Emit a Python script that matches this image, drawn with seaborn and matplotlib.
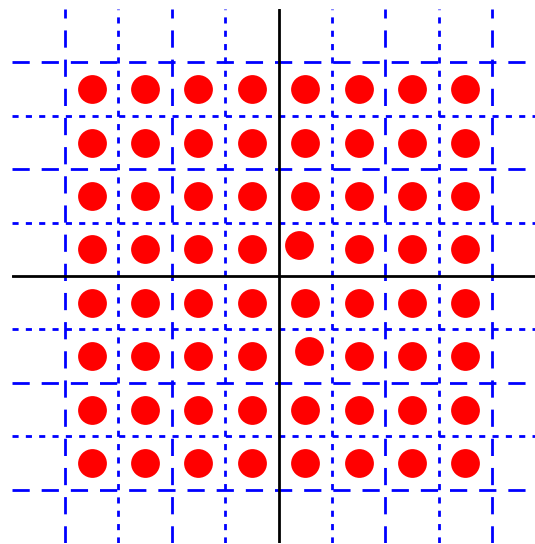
import matplotlib
matplotlib.use("Agg")
import matplotlib.pyplot as plt
import seaborn as sns
import pandas as pd

sns.set_style("white")

# Point coordinates, one list per row of the lattice (top to bottom)
x_row1 = [-1.75, -1.25, -0.75, -0.25, 0.25, 0.75, 1.25, 1.75]
y_row1 = [1.75, 1.75, 1.75, 1.75, 1.75, 1.75, 1.75, 1.75]
x_row2 = [-1.75, -1.25, -0.75, -0.25, 0.25, 0.75, 1.25, 1.75]
y_row2 = [1.25, 1.25, 1.25, 1.25, 1.25, 1.25, 1.25, 1.25]
x_row3 = [-1.75, -1.25, -0.75, -0.25, 0.25, 0.75, 1.25, 1.75]
y_row3 = [0.75, 0.75, 0.75, 0.75, 0.75, 0.75, 0.75, 0.75]
x_row4 = [-1.75, -1.25, -0.75, -0.25, 0.19, 0.75, 1.25, 1.75]
y_row4 = [0.25, 0.25, 0.25, 0.25, 0.29, 0.25, 0.25, 0.25]
x_row5 = [-1.75, -1.25, -0.75, -0.25, 0.25, 0.75, 1.25, 1.75]
y_row5 = [-0.25, -0.25, -0.25, -0.25, -0.25, -0.25, -0.25, -0.25]
x_row6 = [-1.75, -1.25, -0.75, -0.25, 0.29, 0.75, 1.25, 1.75]
y_row6 = [-0.75, -0.75, -0.75, -0.75, -0.70, -0.75, -0.75, -0.75]
x_row7 = [-1.75, -1.25, -0.75, -0.25, 0.25, 0.75, 1.25, 1.75]
y_row7 = [-1.25, -1.25, -1.25, -1.25, -1.25, -1.25, -1.25, -1.25]
x_row8 = [-1.75, -1.25, -0.75, -0.25, 0.25, 0.75, 1.25, 1.75]
y_row8 = [-1.75, -1.75, -1.75, -1.75, -1.75, -1.75, -1.75, -1.75]

major_ticks = [-2, -1, 1, 2]
minor_ticks = [-1.5, -0.5, 0.5, 1.5]

df = pd.DataFrame({
    "x": x_row1 + x_row2 + x_row3 + x_row4 + x_row5 + x_row6 + x_row7 + x_row8,
    "y": y_row1 + y_row2 + y_row3 + y_row4 + y_row5 + y_row6 + y_row7 + y_row8,
})

fig = plt.figure(figsize=(5.35, 5.44), dpi=100)
ax = fig.add_axes([11.5 / 535, 1.0 / 544, 534 / 535, 534 / 544])
ax.set_xlim(-2.5, 2.5)
ax.set_ylim(-2.5, 2.5)

# Grid: dashed at whole units, dotted at half units
for v in major_ticks:
    ax.axvline(v, color="#0000ff", lw=2.0, dashes=(6.2, 4.3), zorder=1)
    ax.axhline(v, color="#0000ff", lw=2.0, dashes=(6.2, 4.3), zorder=1)
for v in minor_ticks:
    ax.axvline(v, color="#0000ff", lw=2.0, dashes=(2.2, 2.6), zorder=1)
    ax.axhline(v, color="#0000ff", lw=2.0, dashes=(2.2, 2.6), zorder=1)

# Coordinate axes through the origin
ax.axvline(0, color="black", lw=2.0, zorder=2)
ax.axhline(0, color="black", lw=2.0, zorder=2)

sns.scatterplot(data=df, x="x", y="y", ax=ax, color="#ff0000", s=430,
                linewidth=0, marker="o", zorder=3, legend=False)

ax.set_xticks([])
ax.set_yticks([])
ax.set_xlabel("")
ax.set_ylabel("")
for sp in ax.spines.values():
    sp.set_visible(False)

fig.savefig("out.png", dpi=100)
